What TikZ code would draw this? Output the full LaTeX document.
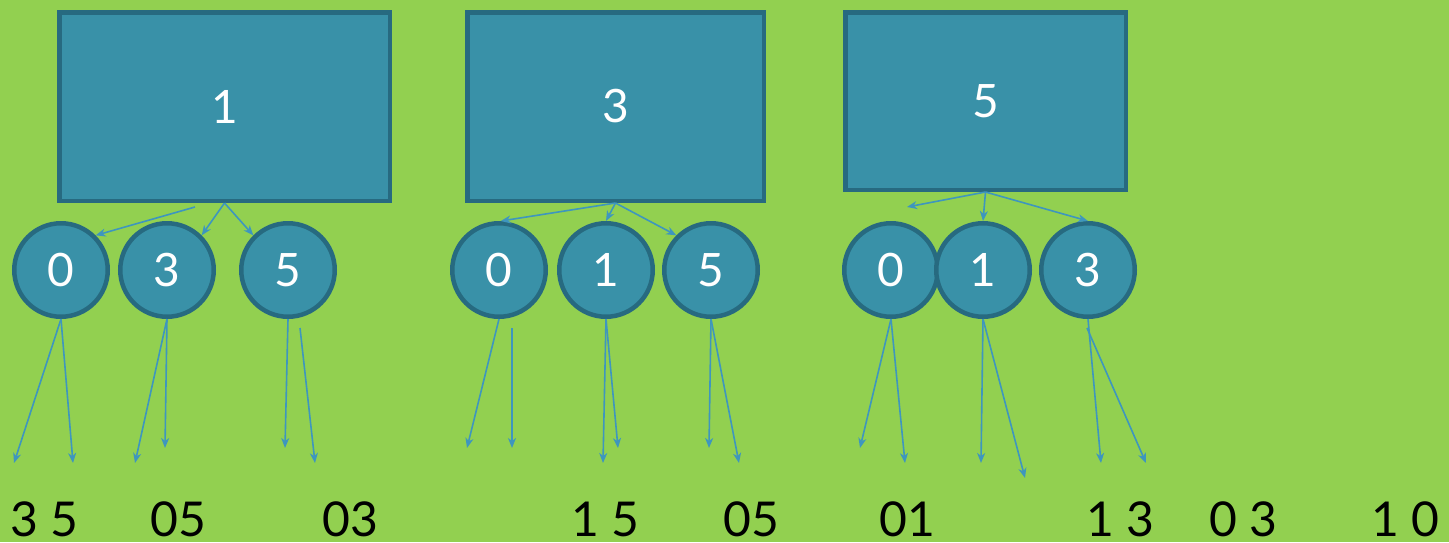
\documentclass[tikz,border=0pt]{standalone}
\usepackage{fontspec}
\setmainfont{Lato}
\usetikzlibrary{arrows.meta}
\definecolor{bg}{HTML}{92D050}
\definecolor{boxfill}{HTML}{3991A8}
\definecolor{boxline}{HTML}{276A80}
\definecolor{arr}{HTML}{3E96BE}
\begin{document}
\begin{tikzpicture}[x=1pt,y=-1pt,
  bigbox/.style={rectangle, draw=boxline, fill=boxfill, line width=4.5pt, text=white,
    font=\fontsize{46}{50}\selectfont, inner sep=0pt},
  ball/.style={circle, draw=boxline, fill=boxfill, line width=4.5pt, minimum size=93.5pt,
    inner sep=0pt, text=white, font=\fontsize{46}{50}\selectfont},
  conn/.style={draw=arr, line width=1.6pt, -{Stealth[length=10pt,width=8pt,inset=3pt]}},
  lbl/.style={font=\fontsize{48}{56}\selectfont, anchor=base, inner sep=0pt, text=black}]
\useasboundingbox (0,0) rectangle (1449,542);
\fill[bg] (0,0) rectangle (1449,542);

% boxes
\node[bigbox, minimum width=330.5pt, minimum height=188.5pt] (b1) at (224.5,106.5) {1};
\node[bigbox, minimum width=296.5pt, minimum height=188.5pt] (b2) at (615.5,106.5) {3};
\node[bigbox, minimum width=280.5pt, minimum height=177.5pt] (b3) at (985.5,101) {5};

% circles
\node[ball] (c10) at (61,270) {0};
\node[ball] (c13) at (167,270) {3};
\node[ball] (c15) at (288,270) {5};
\node[ball] (c20) at (499,270) {0};
\node[ball] (c21) at (606,270) {1};
\node[ball] (c25) at (711,270) {5};
\node[ball] (c30) at (891,270) {0};
\node[ball] (c31) at (983,270) {1};
\node[ball] (c33) at (1088,270) {3};

% coordinates
\coordinate (b1l) at (195,207);
\coordinate (g3e) at (907,207);
\coordinate (e1) at (14,463);
\coordinate (e2) at (73,463);
\coordinate (e3) at (135,463);
\coordinate (e4) at (165,448);
\coordinate (e5) at (285,448);
\coordinate (s6) at (300,328);
\coordinate (e6) at (315,463);
\coordinate (e7) at (467,448);
\coordinate (s8) at (512,328);
\coordinate (e8) at (512,448);
\coordinate (e9) at (603,463);
\coordinate (e10) at (618,448);
\coordinate (e11) at (709,448);
\coordinate (e12) at (739,463);
\coordinate (e13) at (860,448);
\coordinate (e14) at (905,463);
\coordinate (e15) at (981,463);
\coordinate (e16) at (1025,478);
\coordinate (e17) at (1101,463);
\coordinate (s18) at (1087,328);
\coordinate (e18) at (1146,463);

% box to circle arrows
\draw[conn] (b1l) -- (c10.45);
\draw[conn] (b1.south) -- (c13.45);
\draw[conn] (b1.south) -- (c15.135);
\draw[conn] (b2.south) -- (c20.88);
\draw[conn] (b2.south) -- (c21.north);
\draw[conn] (b2.south) -- (c25.135);
\draw[conn] (b3.south) -- (g3e);
\draw[conn] (b3.south) -- (c31.north);
\draw[conn] (b3.south) -- (c33.north);

% down arrows
\draw[conn] (c10.south) -- (e1);
\draw[conn] (c10.south) -- (e2);
\draw[conn] (c13.south) -- (e3);
\draw[conn] (c13.south) -- (e4);
\draw[conn] (c15.south) -- (e5);
\draw[conn] (s6) -- (e6);
\draw[conn] (c20.south) -- (e7);
\draw[conn] (s8) -- (e8);
\draw[conn] (c21.south) -- (e9);
\draw[conn] (c21.south) -- (e10);
\draw[conn] (c25.south) -- (e11);
\draw[conn] (c25.south) -- (e12);
\draw[conn] (c30.south) -- (e13);
\draw[conn] (c30.south) -- (e14);
\draw[conn] (c31.south) -- (e15);
\draw[conn] (c31.south) -- (e16);
\draw[conn] (c33.south) -- (e17);
\draw[conn] (s18) -- (e18);

% bottom labels
\node[lbl] (t1) at (44,536) {3 5};
\node[lbl] (t2) at (178,536) {05};
\node[lbl] (t3) at (350,536) {03};
\node[lbl] (t4) at (605,536) {1 5};
\node[lbl] (t5) at (751,536) {05};
\node[lbl] (t6) at (907,536) {01};
\node[lbl] (t7) at (1120,536) {1 3};
\node[lbl] (t8) at (1243,536) {0 3};
\node[lbl] (t9) at (1405,536) {1 0};
\end{tikzpicture}
\end{document}
